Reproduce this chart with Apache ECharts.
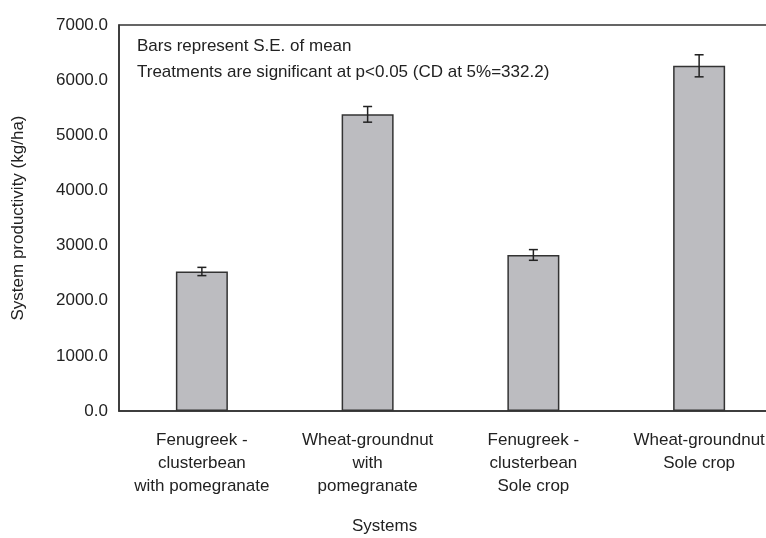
<!DOCTYPE html>
<html>
<head>
<meta charset="utf-8">
<script src="https://cdn.jsdelivr.net/npm/echarts@6/dist/echarts.min.js"></script>
<style>
  html, body { margin: 0; padding: 0; background: #fff; overflow: hidden; }
  /* the figure is cut off on the right, so the chart is a bit wider than the window */
  #charts { width: 782px; height: 538px; }
</style>
</head>
<body>
<div id="charts"></div>
<script>
// values
const categories = [
    'Fenugreek -\nclusterbean\nwith pomegranate',
    'Wheat-groundnut\nwith\npomegranate',
    'Fenugreek -\nclusterbean\nSole crop',
    'Wheat-groundnut\nSole crop'
];
const productivity = [2530, 5380, 2830, 6260];
const stdError = [75, 142, 97, 200];
const yTicks = [0, 1000, 2000, 3000, 4000, 5000, 6000, 7000];

const font = 'Liberation Sans, Arial, sans-serif';
const errorData = productivity.map((v, i) => [i, v - stdError[i], v + stdError[i]]);

let myChart = echarts.init(document.getElementById('charts'));
myChart.setOption({
    animation: false,
    textStyle: { fontFamily: font },
    grid: {
        left: 119,
        right: 0,
        top: 25,
        bottom: 127,
        show: true,
        borderColor: '#333',
        borderWidth: 1.5
    },
    graphic: [
        {
            type: 'text', left: 137, top: 38,
            style: { text: 'Bars represent S.E. of mean', font: '17px ' + font, fill: '#222' }
        },
        {
            type: 'text', left: 137, top: 64,
            style: { text: 'Treatments are significant at p<0.05 (CD at 5%=332.2)', font: '17px ' + font, fill: '#222' }
        },
        {
            type: 'text', left: 352, top: 518,
            style: { text: 'Systems', font: '17px ' + font, fill: '#222' }
        }
    ],
    xAxis: {
        type: 'category',
        data: categories,
        axisLine: { lineStyle: { color: '#333', width: 1.5 } },
        axisTick: { show: false },
        axisLabel: { color: '#222', fontSize: 17, lineHeight: 23, margin: 18, interval: 0 }
    },
    yAxis: {
        type: 'value',
        min: yTicks[0],
        max: yTicks[yTicks.length - 1],
        interval: 1000,
        name: 'System productivity (kg/ha)',
        nameLocation: 'middle',
        nameGap: 92,
        nameTextStyle: { color: '#222', fontSize: 17 },
        axisLine: { show: true, lineStyle: { color: '#333', width: 1.5 } },
        axisTick: { show: false },
        splitLine: { show: false },
        axisLabel: {
            color: '#222', fontSize: 17, margin: 11,
            formatter: v => v.toFixed(1)
        }
    },
    series: [
        {
            type: 'bar',
            data: productivity,
            barWidth: 52,
            itemStyle: { color: '#bcbcc0', borderColor: '#333', borderWidth: 1.5 }
        },
        {
            type: 'custom',
            data: errorData,
            z: 10,
            renderItem: function (params, api) {
                const lo = api.coord([api.value(0), api.value(1)]);
                const hi = api.coord([api.value(0), api.value(2)]);
                const w = 4.5;
                const style = { stroke: '#222', lineWidth: 1.5 };
                return {
                    type: 'group',
                    children: [
                        { type: 'line', shape: { x1: hi[0], y1: hi[1], x2: lo[0], y2: lo[1] }, style },
                        { type: 'line', shape: { x1: hi[0] - w, y1: hi[1], x2: hi[0] + w, y2: hi[1] }, style },
                        { type: 'line', shape: { x1: lo[0] - w, y1: lo[1], x2: lo[0] + w, y2: lo[1] }, style }
                    ]
                };
            }
        }
    ]
});
</script>
</body>
</html>
